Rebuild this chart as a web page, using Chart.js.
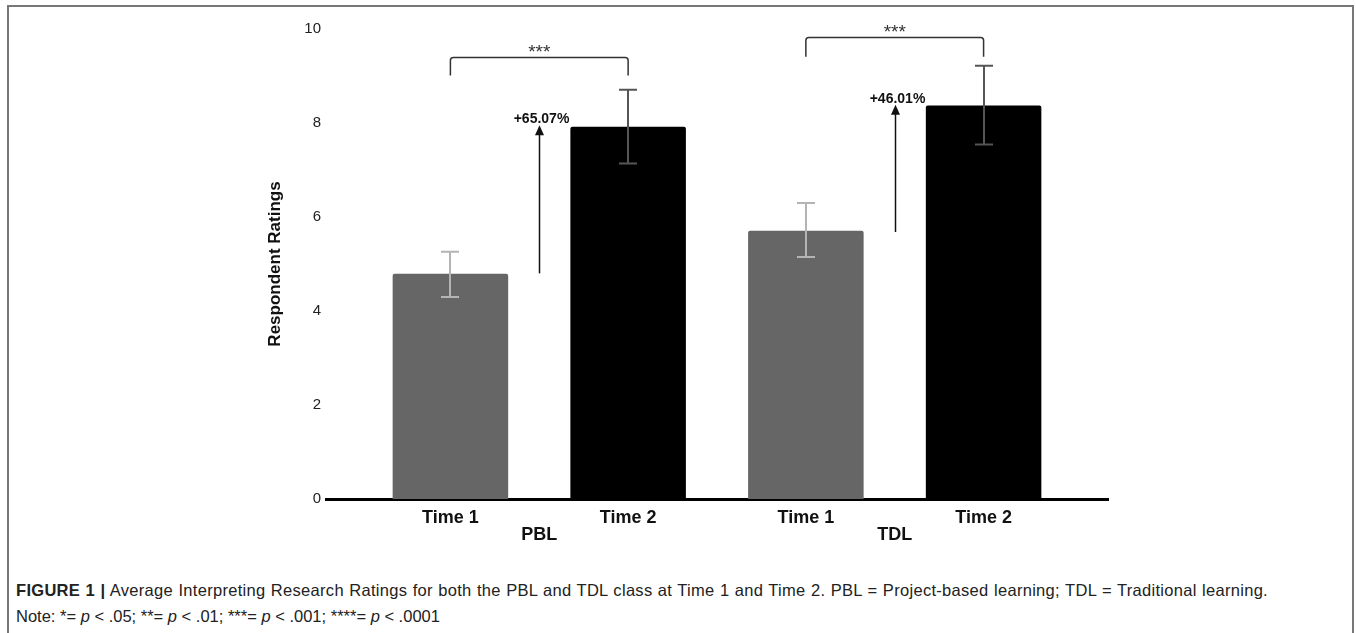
<!DOCTYPE html>
<html>
<head>
<meta charset="utf-8">
<script src="https://cdn.jsdelivr.net/npm/chart.js@4.4.0/dist/chart.umd.min.js"></script>
<style>
  body { margin: 0; background: #fff; width: 1356px; height: 633px; overflow: hidden; position: relative; font-family: "Liberation Sans", Arial, sans-serif; }
  #cornice { position: absolute; left: 7px; top: 5px; width: 1343px; height: 700px; border: 2px solid #777; border-bottom: none; }
  #contenitore { position: absolute; left: 0; top: 0; width: 1356px; height: 560px; }
  #didascalia { position: absolute; left: 16px; top: 577px; font-size: 16.5px; line-height: 26px; color: #222; white-space: nowrap; }
  #didascalia .riga1 { letter-spacing: 0.3px; word-spacing: 0.5px; }
</style>
</head>
<body>
<div id="cornice"></div>
<div id="contenitore"><canvas id="grafico" width="1356" height="560"></canvas></div>
<div id="didascalia">
  <div class="riga1"><b>FIGURE 1 |</b> Average Interpreting Research Ratings for both the PBL and TDL class at Time 1 and Time 2. PBL = Project-based learning; TDL = Traditional learning.</div>
  <div>Note: *= <i>p</i> &lt; .05; **= <i>p</i> &lt; .01; ***= <i>p</i> &lt; .001; ****= <i>p</i> &lt; .0001</div>
</div>
<script>
// Bars: one per class and time, in the order they appear
const labels = ['Time 1', 'Time 2', 'Time 1', 'Time 2'];
const positions = [1, 2, 3, 4];
const groups = ['PBL', 'TDL'];
const groupPositions = [1.5, 3.5];
const means = [4.79, 7.92, 5.71, 8.37];
const errLow = [4.30, 7.14, 5.15, 7.54];
const errHigh = [5.26, 8.71, 6.30, 9.22];
const barColors = ['#666666', '#000000', '#666666', '#000000'];
const errColors = ['#b4b4b4', '#555555', '#b4b4b4', '#555555'];
const yTicks = [0, 2, 4, 6, 8, 10];

// Arrows with the percent change between Time 1 and Time 2
const arrowText = ['+65.07%', '+46.01%'];
const arrowFrom = [4.80, 5.68];
const arrowTo = [7.95, 8.39];

// Significance brackets
const bracketFrom = [1, 3];
const bracketTo = [2, 4];
const bracketTop = [9.41, 9.82];
const bracketLegs = [9.01, 9.41];
const bracketText = ['***', '***'];

// Plugin that draws error bars, arrows and brackets on top of the bars
const annotations = {
  id: 'annotations',
  afterDatasetsDraw(chart) {
    const ctx = chart.ctx;
    const xs = chart.scales.x;
    const ys = chart.scales.y;
    ctx.save();

    // error bars
    positions.forEach((p, i) => {
      const px = Math.round(xs.getPixelForValue(p));
      const top = ys.getPixelForValue(errHigh[i]);
      const bot = ys.getPixelForValue(errLow[i]);
      ctx.strokeStyle = errColors[i];
      ctx.lineWidth = 2;
      ctx.beginPath();
      ctx.moveTo(px, top); ctx.lineTo(px, bot);
      ctx.moveTo(px - 9, top); ctx.lineTo(px + 9, top);
      ctx.moveTo(px - 9, bot); ctx.lineTo(px + 9, bot);
      ctx.stroke();
    });

    // arrows
    groupPositions.forEach((g, i) => {
      const px = Math.round(xs.getPixelForValue(g)) + 0.5;
      const y0 = ys.getPixelForValue(arrowFrom[i]);
      const y1 = ys.getPixelForValue(arrowTo[i]);
      ctx.strokeStyle = '#111';
      ctx.fillStyle = '#111';
      ctx.lineWidth = 1.5;
      ctx.beginPath();
      ctx.moveTo(px, y0); ctx.lineTo(px, y1 + 8);
      ctx.stroke();
      ctx.beginPath();
      ctx.moveTo(px, y1); ctx.lineTo(px - 4.5, y1 + 10); ctx.lineTo(px + 4.5, y1 + 10);
      ctx.closePath();
      ctx.fill();
      ctx.font = 'bold 14px "Liberation Sans", Arial, sans-serif';
      ctx.textAlign = 'center';
      ctx.textBaseline = 'alphabetic';
      ctx.fillText(arrowText[i], px + 2, y1 - 2);
    });

    // brackets
    bracketFrom.forEach((b, i) => {
      const x1 = xs.getPixelForValue(b);
      const x2 = xs.getPixelForValue(bracketTo[i]);
      const yt = Math.round(ys.getPixelForValue(bracketTop[i])) + 0.5;
      const yl = ys.getPixelForValue(bracketLegs[i]);
      ctx.strokeStyle = '#333';
      ctx.lineWidth = 1.5;
      ctx.beginPath();
      ctx.moveTo(x1, yl);
      ctx.arcTo(x1, yt, x2, yt, 3);
      ctx.arcTo(x2, yt, x2, yl, 3);
      ctx.lineTo(x2, yl);
      ctx.stroke();
      ctx.fillStyle = '#333';
      ctx.font = '19px "Liberation Sans", Arial, sans-serif';
      ctx.textAlign = 'center';
      ctx.textBaseline = 'alphabetic';
      ctx.fillText(bracketText[i], (x1 + x2) / 2, yt);
    });

    ctx.restore();
  }
};

const tickFont = { family: '"Liberation Sans", Arial, sans-serif' };

const ChartRatings = new Chart(
  document.getElementById('grafico'),
  {
    type: 'bar',
    data: {
      datasets: [{
        data: positions.map((p, i) => ({ x: p, y: means[i] })),
        backgroundColor: barColors,
        borderRadius: 2,
        // the ruler also counts the group ticks at .5, so one step is half a bar slot
        barPercentage: 1.3,
        categoryPercentage: 1
      }]
    },
    options: {
      responsive: false,
      animation: false,
      layout: { padding: { left: 265, right: 248, top: 29, bottom: 0 } },
      plugins: { legend: { display: false }, tooltip: { enabled: false } },
      scales: {
        x: {
          type: 'linear',
          min: 0.3,
          max: 4.7,
          offset: false,
          z: 1,
          grid: { display: false, drawTicks: false, offset: false },
          border: { display: true, color: '#000', width: 3 },
          afterBuildTicks: s => {
            s.ticks = positions.concat(groupPositions).sort().map(v => ({ value: v }));
          },
          afterFit: s => { s.height = 61; },
          ticks: {
            autoSkip: false,
            maxRotation: 0,
            padding: 10,
            color: '#111',
            font: Object.assign({ size: 18, weight: 'bold', lineHeight: 0.95 }, tickFont),
            callback: v => {
              const i = positions.indexOf(v);
              if (i >= 0) return labels[i];
              const j = groupPositions.indexOf(v);
              return j >= 0 ? ['', groups[j]] : '';
            }
          }
        },
        y: {
          min: 0,
          max: 10,
          grid: { display: false, drawTicks: false },
          border: { display: false },
          afterBuildTicks: s => { s.ticks = yTicks.map(v => ({ value: v })); },
          afterFit: s => { s.width = 61; },
          ticks: {
            padding: 5,
            color: '#222',
            font: Object.assign({ size: 15 }, tickFont)
          },
          title: {
            display: true,
            text: 'Respondent Ratings',
            color: '#111',
            padding: 0,
            font: Object.assign({ size: 17, weight: 'bold' }, tickFont)
          }
        }
      }
    },
    plugins: [annotations]
  }
);
</script>
</body>
</html>
